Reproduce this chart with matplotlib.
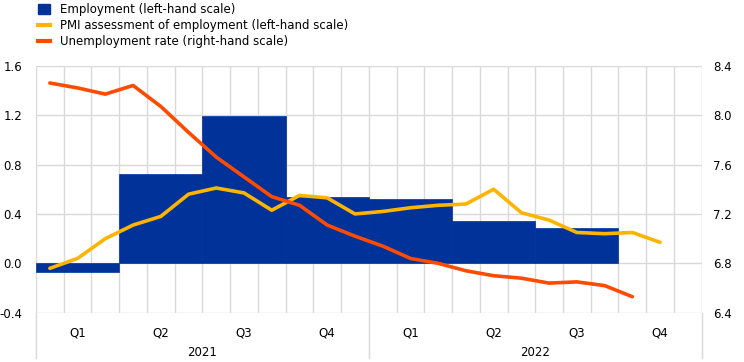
import numpy as np
import matplotlib.pyplot as plt
from matplotlib.lines import Line2D
from matplotlib.patches import Patch
import matplotlib.transforms as mtransforms

# quarterly employment growth, 2021 Q1 - 2022 Q3
employment = [-0.07, 0.72, 1.19, 0.54, 0.52, 0.34, 0.29]
# monthly PMI assessment, Jan 2021 - Nov 2022
pmi = [-0.04, 0.04, 0.20, 0.31, 0.38, 0.56, 0.61, 0.57, 0.43, 0.55, 0.53, 0.40,
       0.42, 0.45, 0.47, 0.48, 0.60, 0.41, 0.35, 0.25, 0.24, 0.25, 0.17]
# monthly unemployment rate, Jan 2021 - Oct 2022
unemp = [8.26, 8.22, 8.17, 8.24, 8.07, 7.86, 7.66, 7.50, 7.34, 7.27, 7.11, 7.02,
         6.94, 6.84, 6.80, 6.74, 6.70, 6.68, 6.64, 6.65, 6.62, 6.53]
quarters = ["Q1", "Q2", "Q3", "Q4", "Q1", "Q2", "Q3", "Q4"]
years = ["2021", "2022"]

blue = "#003299"
yellow = "#FFB400"
red = "#FF4B00"
grid = "#d9d9d9"

fig = plt.figure(figsize=(7.44, 3.62), dpi=100)
ax = fig.add_axes([0.0484, 0.136, 0.8947, 0.6825])
ax2 = ax.twinx()

ax.bar(np.arange(len(employment)) * 3, employment, width=3, align="edge",
       color=blue, edgecolor=blue, linewidth=0.5, zorder=2)
ax.plot(np.arange(len(pmi)) + 0.5, pmi, color=yellow, lw=2.6, zorder=3,
        solid_capstyle="round")
ax2.plot(np.arange(len(unemp)) + 0.5, unemp, color=red, lw=2.6, zorder=3,
         solid_capstyle="round")

ax.set_xlim(0, 24)
ax.set_ylim(-0.4, 1.6)
ax2.set_ylim(6.4, 8.4)
ax.set_yticks(np.arange(-0.4, 1.61, 0.4))
ax.set_yticklabels([f"{v:.1f}" for v in np.arange(-0.4, 1.61, 0.4)])
ax2.set_yticks(np.arange(6.4, 8.41, 0.4))
ax2.set_yticklabels([f"{v:.1f}" for v in np.arange(6.4, 8.41, 0.4)])

ax.set_xticks(np.arange(0, 25, 1))
ax.set_xticklabels([])
ax.set_xticks(np.arange(len(quarters)) * 3 + 1.5, minor=True)
ax.set_xticklabels(quarters, minor=True)
ax.grid(True, which="major", color=grid, lw=1.0, zorder=0)
ax.set_axisbelow(True)

for a in (ax, ax2):
    for s in a.spines.values():
        s.set_visible(False)
    a.tick_params(which="both", length=0, labelsize=8.5, colors="black")
ax.tick_params(axis="y", pad=10)
ax2.tick_params(axis="y", pad=8)
ax.tick_params(axis="x", which="minor", pad=10)

# year labels and separators under the axis
trans = mtransforms.blended_transform_factory(ax.transData, ax.transAxes)
for i, y in enumerate(years):
    ax.text(i * 12 + 6, -0.16, y, transform=trans, ha="center", va="center",
            fontsize=8.5)
for xv in (0, 12, 24):
    ax.add_line(Line2D([xv, xv], [0, -0.185], transform=trans, color=grid,
                       lw=1.0, clip_on=False))

handles = [Patch(facecolor=blue, edgecolor=blue),
           Line2D([0], [0], color=yellow, lw=3),
           Line2D([0], [0], color=red, lw=3)]
labels = ["Employment (left-hand scale)",
          "PMI assessment of employment (left-hand scale)",
          "Unemployment rate (right-hand scale)"]
fig.legend(handles, labels, loc="upper left", bbox_to_anchor=(0.042, 1.01),
           frameon=False, fontsize=8.5, handlelength=1.0, handleheight=0.9,
           handletextpad=0.8, labelspacing=0.25, borderaxespad=0.2)

fig.savefig("out.png", dpi=100)
